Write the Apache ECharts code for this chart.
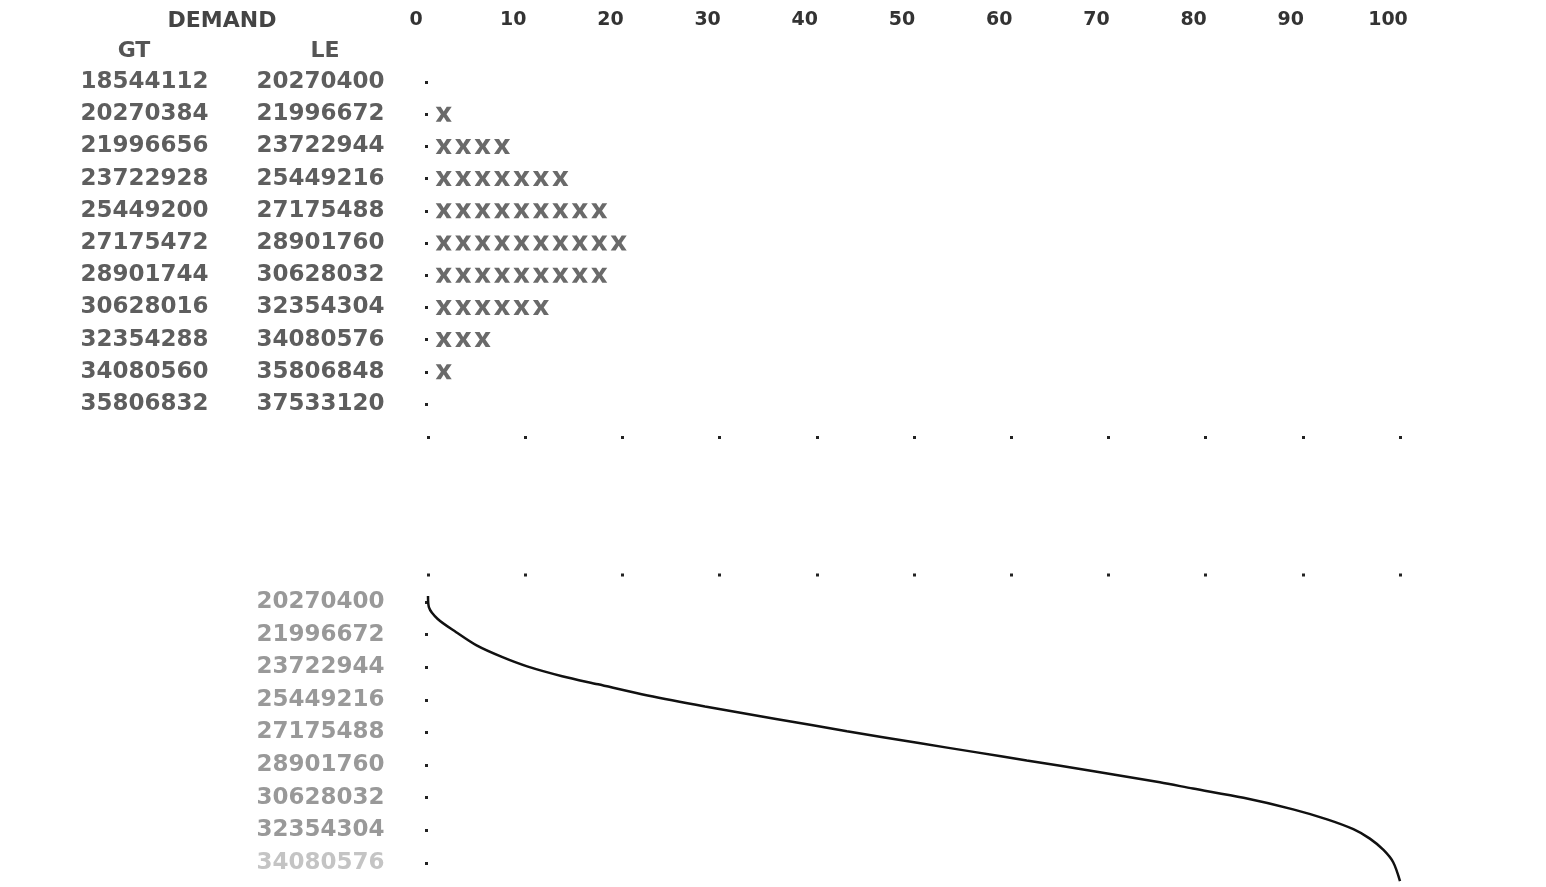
<!DOCTYPE html>
<html><head><meta charset="utf-8">
<script src="https://cdn.jsdelivr.net/npm/echarts@6/dist/echarts.min.js"></script>
<style>html,body{margin:0;padding:0;background:#fff;}#c{width:1546px;height:887px;}</style>
</head><body><div id="c"></div>
<script>
// Histogram bins (demand ranges) and percent of time in each bin
const binGT = ['18544112','20270384','21996656','23722928','25449200','27175472','28901744','30628016','32354288','34080560','35806832'];
const binLE = ['20270400','21996672','23722944','25449216','27175488','28901760','30628032','32354304','34080576','35806848','37533120'];
const binPercent = [0, 2, 8, 14, 18, 20, 18, 12, 6, 2, 0];
// Percent scale tick labels
const percentTicks = [0, 10, 20, 30, 40, 50, 60, 70, 80, 90, 100];
// Duration curve: y-axis labels and curve points
const curveLabels = [20270400, 21996672, 23722944, 25449216, 27175488, 28901760, 30628032, 32354304, 34080576];
const curvePercent = [0, 0.1, 1.0, 2.9, 5.0, 7.6, 10.2, 13.8, 17.5, 22.6, 28.5, 35.8, 43.1, 50.5, 56.3, 61.6, 68.5, 75.3, 78.7, 83.9, 89.0, 92.5, 95.2, 96.9, 98.3, 99.3, 100];
const curveDemand = [19950000, 20560000, 21170000, 21870000, 22570000, 23180000, 23680000, 24200000, 24630000, 25220000, 25800000, 26460000, 27110000, 27740000, 28220000, 28660000, 29230000, 29820000, 30150000, 30640000, 31250000, 31780000, 32300000, 32800000, 33400000, 34050000, 35050000];

const FONT = 'DejaVu Sans';
const chart = echarts.init(document.getElementById('c'), null, {renderer: 'canvas'});
const dotTick = {show: true, length: 3, lineStyle: {width: 3, color: '#222'}};
const xPath = 'path://M0,0 L5,0 L8,4.5 L11,0 L16,0 L10.8,7 L16,14 L11,14 L8,9.5 L5,14 L0,14 L5.2,7 Z';

chart.setOption({
  animation: false,
  backgroundColor: '#fff',
  graphic: [
    {type: 'text', x: 222, y: 21, style: {text: 'DEMAND', font: 'bold 22px ' + FONT, fill: '#444', align: 'center', verticalAlign: 'middle'}},
    {type: 'text', x: 134, y: 51, style: {text: 'GT', font: 'bold 22px ' + FONT, fill: '#555', align: 'center', verticalAlign: 'middle'}},
    {type: 'text', x: 325, y: 51, style: {text: 'LE', font: 'bold 22px ' + FONT, fill: '#555', align: 'center', verticalAlign: 'middle'}}
  ],
  grid: [
    {left: 428, width: 972, top: 65.9, height: 354.2},
    {left: 428, width: 972, top: 587.45, height: 297.45}
  ],
  xAxis: [
    {type: 'value', gridIndex: 0, position: 'top', min: 0, max: 100, interval: 10,
     axisLine: {show: false}, axisTick: {show: false}, splitLine: {show: false},
     axisLabel: {show: true, margin: 36, color: '#333', fontFamily: FONT, fontWeight: 'bold', fontSize: 19, padding: [0, 24, 0, 0],
       formatter: (v) => percentTicks.indexOf(v) >= 0 ? String(v) : ''}},
    {type: 'value', gridIndex: 0, position: 'bottom', offset: 16, min: 0, max: 100, interval: 10,
     axisLine: {show: false}, axisTick: dotTick, splitLine: {show: false}, axisLabel: {show: false}},
    {type: 'value', gridIndex: 1, position: 'top', offset: 11, min: 0, max: 100, interval: 10,
     axisLine: {show: false}, axisTick: dotTick, splitLine: {show: false}, axisLabel: {show: false}}
  ],
  yAxis: [
    {type: 'category', gridIndex: 0, data: binGT, inverse: true,
     axisLine: {show: false}, splitLine: {show: false},
     axisTick: {show: true, alignWithLabel: true, length: 3, lineStyle: {width: 3, color: '#222'}},
     axisLabel: {margin: 25, fontFamily: FONT, fontWeight: 'bold', fontSize: 23,
       formatter: (v, i) => '{gt|' + v + '}{sp| }{le|' + binLE[i] + '}',
       rich: {
         gt: {width: 165, align: 'center', color: '#5e5e5e', fontFamily: FONT, fontWeight: 'bold', fontSize: 23},
         sp: {width: 11},
         le: {width: 165, align: 'center', color: '#5e5e5e', fontFamily: FONT, fontWeight: 'bold', fontSize: 23}
       }}},
    {type: 'value', gridIndex: 1, inverse: true, min: 19500000, max: 35250000,
     axisLine: {show: false}, splitLine: {show: false},
     axisTick: {show: true, length: 3, lineStyle: {width: 3, color: '#222'}, customValues: curveLabels},
     axisLabel: {margin: 25, customValues: curveLabels,
       formatter: (v) => (v === curveLabels[curveLabels.length - 1] ? '{f|' : '{le|') + v + '}',
       rich: {
         le: {width: 165, align: 'center', color: '#999', fontFamily: FONT, fontWeight: 'bold', fontSize: 23},
         f: {width: 165, align: 'center', color: '#c4c4c4', fontFamily: FONT, fontWeight: 'bold', fontSize: 23}
       }}}
  ],
  series: [
    {type: 'pictorialBar', xAxisIndex: 0, yAxisIndex: 0, data: binPercent,
     symbol: xPath, symbolRepeat: true, symbolClip: false, symbolSize: [16, 15], symbolMargin: '1.72!',
     symbolOffset: [6, 0],
     itemStyle: {color: '#6a6a6a'}},
    {type: 'line', xAxisIndex: 2, yAxisIndex: 1, smooth: 0.3, showSymbol: false,
     data: curvePercent.map((p, i) => [p, curveDemand[i]]),
     lineStyle: {color: '#111', width: 2.5}}
  ]
});
</script></body></html>
